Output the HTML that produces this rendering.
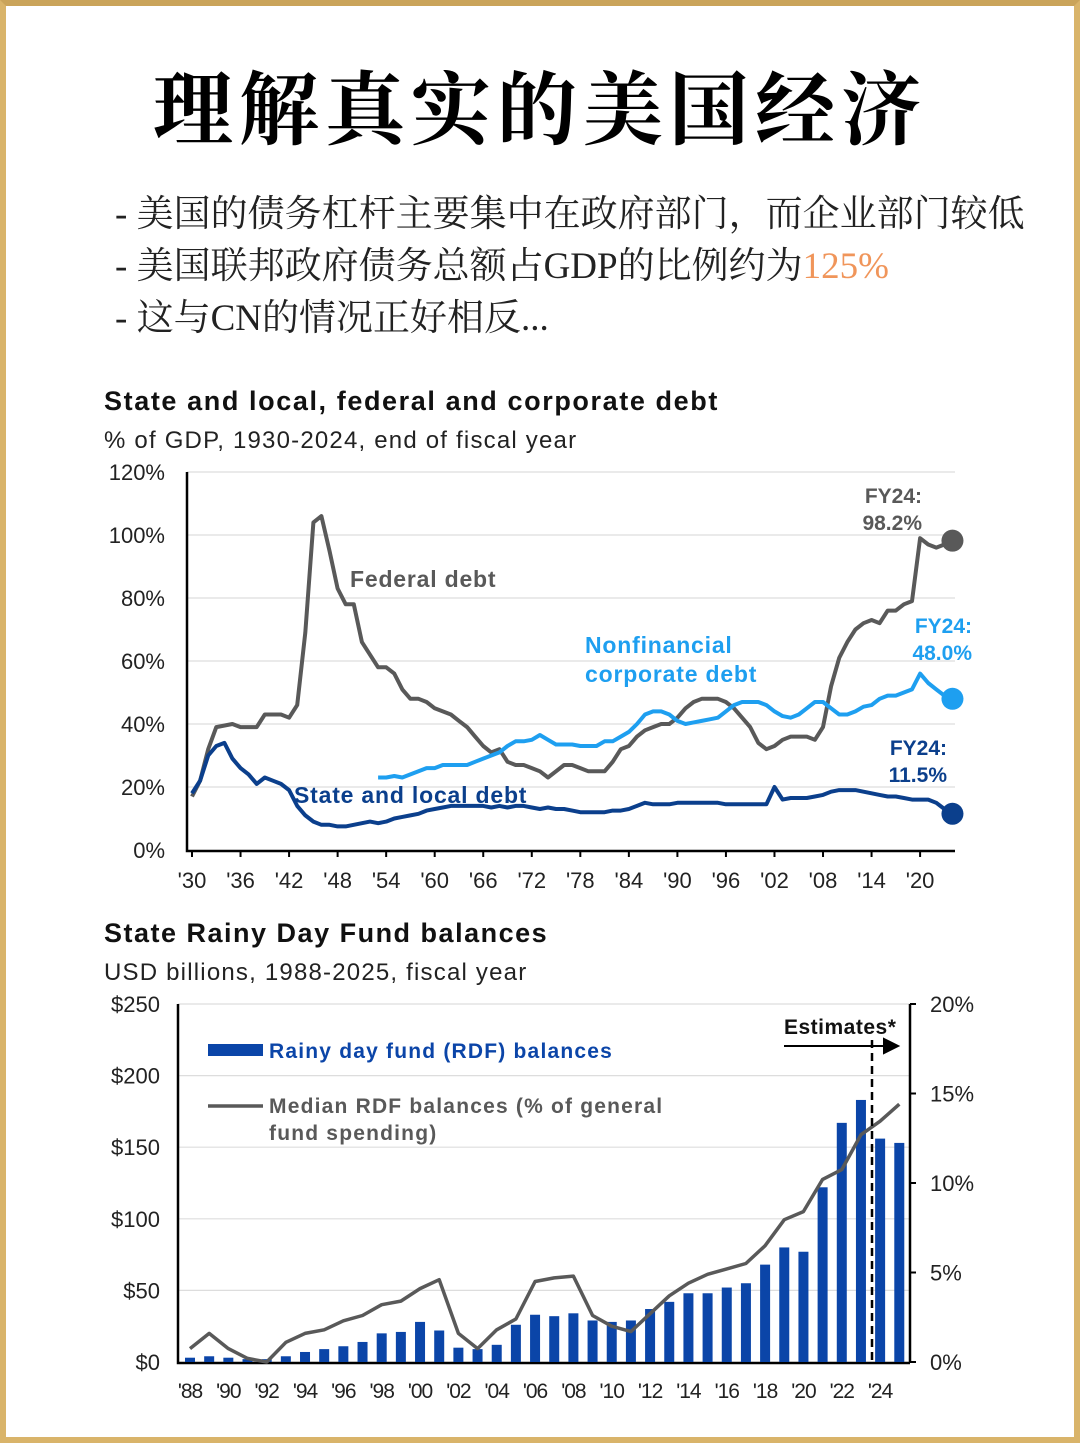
<!DOCTYPE html>
<html><head><meta charset="utf-8">
<style>
html,body{margin:0;padding:0;}
body{width:1080px;height:1443px;position:relative;background:#fff;overflow:hidden;font-family:"Liberation Sans","Noto Sans CJK SC",sans-serif;}
.frame{position:absolute;left:0;top:0;width:1080px;height:1443px;box-sizing:border-box;border:6px solid #d9b46a;border-top-color:#caa45a;}
.title{position:absolute;left:0;width:1080px;top:54px;text-align:center;font-family:"Noto Serif CJK SC",serif;font-weight:700;font-size:80px;letter-spacing:6px;color:#000;line-height:100px;}
.bul{position:absolute;left:115px;font-family:"Liberation Serif","Noto Serif CJK SC",serif;font-size:37px;color:#222;line-height:40px;white-space:nowrap;}
.orange{color:#f0955a;}
svg{position:absolute;left:0;top:0;}
</style></head>
<body>
<div class="frame"></div>
<div class="title">理解真实的美国经济</div>
<div class="bul" style="top:195px">- 美国的债务杠杆主要集中在政府部门，而企业部门较低</div>
<div class="bul" style="top:247px">- 美国联邦政府债务总额占GDP的比例约为<span class="orange">125%</span></div>
<div class="bul" style="top:299px">- 这与CN的情况正好相反...</div>
<svg id="chart" width="1080" height="1443"></svg>
<script>
// ---------- Chart 1 data ----------
const fedYears = [1930,1931,1932,1933,1935,1936,1938,1939,1941,1942,1943,1944,1945,1946,1947,1948,1949,1950,1951,1952,1953,1954,1955,1956,1957,1958,1959,1960,1961,1962,1963,1964,1965,1966,1967,1968,1969,1970,1971,1972,1973,1974,1975,1976,1977,1978,1979,1980,1981,1982,1983,1984,1985,1986,1987,1988,1989,1990,1991,1992,1993,1994,1995,1996,1997,1998,1999,2000,2001,2002,2003,2004,2005,2006,2007,2008,2009,2010,2011,2012,2013,2014,2015,2016,2017,2018,2019,2020,2021,2022,2023,2024];
const fedValues = [17,22,32,39,40,39,39,43,43,42,46,69,104,106,95,83,78,78,66,62,58,58,56,51,48,48,47,45,44,43,41,39,36,33,31,32,28,27,27,26,25,23,25,27,27,26,25,25,25,28,32,33,36,38,39,40,40,42,45,47,48,48,48,47,45,42,39,34,32,33,35,36,36,36,35,39,52,61,66,70,72,73,72,76,76,78,79,99,97,96,97,98.2];
const corpYears = [1953,1954,1955,1956,1957,1958,1959,1960,1961,1962,1963,1964,1965,1966,1967,1968,1969,1970,1971,1972,1973,1974,1975,1976,1977,1978,1979,1980,1981,1982,1983,1984,1985,1986,1987,1988,1989,1990,1991,1992,1993,1994,1995,1996,1997,1998,1999,2000,2001,2002,2003,2004,2005,2006,2007,2008,2009,2010,2011,2012,2013,2014,2015,2016,2017,2018,2019,2020,2021,2022,2023,2024];
const corpValues = [23,23,23.5,23,24,25,26,26,27,27,27,27,28,29,30,31,33,34.5,34.5,35,36.5,35,33.5,33.5,33.5,33,33,33,34.5,34.5,36,37.5,40,43,44,44,43,41,40,40.5,41,41.5,42,44,46,47,47,47,46,44,42.5,42,43,45,47,47,45,43,43,44,45.5,46,48,49,49,50,51,56,53,51,49,48];
const slYears = [];
for (let y = 1930; y <= 2024; y++) slYears.push(y);
const slValues = [18,22,30,33,34,29,26,24,21,23,22,21,19,14,11,9,8,8,7.5,7.5,8,8.5,9,8.5,9,10,10.5,11,11.5,12.5,13,13.5,14,14,14,14,14,13.5,14,13.5,14,14,13.5,13,13.5,13,13,12.5,12,12,12,12,12.5,12.5,13,14,15,14.5,14.5,14.5,15,15,15,15,15,15,14.5,14.5,14.5,14.5,14.5,14.5,20,16,16.5,16.5,16.5,17,17.5,18.5,19,19,19,18.5,18,17.5,17,17,16.5,16,16,16,15,13,11.5];
const yTicks1 = ["0%","20%","40%","60%","80%","100%","120%"];
const xTicks1 = ["'30","'36","'42","'48","'54","'60","'66","'72","'78","'84","'90","'96","'02","'08","'14","'20"];

// ---------- Chart 2 data ----------
const rdfYears = [];
for (let y = 1988; y <= 2025; y++) rdfYears.push(y);
const rdfValues = [3,4,3,2,2,4,7,9,11,14,20,21,28,22,10,9,12,26,33,32,34,29,28,29,37,42,48,48,52,55,68,80,77,122,167,183,156,153];
const medValues = [0.75,1.6,0.75,0.2,0,1.1,1.6,1.8,2.3,2.6,3.2,3.4,4.1,4.6,1.6,0.75,1.8,2.4,4.5,4.7,4.8,2.6,2.0,1.7,2.7,3.7,4.4,4.9,5.2,5.5,6.5,7.95,8.4,10.2,10.75,12.7,13.45,14.4];
const yTicks2L = ["$0","$50","$100","$150","$200","$250"];
const yTicks2R = ["0%","5%","10%","15%","20%"];
const xTicks2 = ["'88","'90","'92","'94","'96","'98","'00","'02","'04","'06","'08","'10","'12","'14","'16","'18","'20","'22","'24"];

const svg = document.getElementById('chart');
const NS = 'http://www.w3.org/2000/svg';
function mk(tag, attrs, parent) {
  const e = document.createElementNS(NS, tag);
  for (const k in attrs) e.setAttribute(k, attrs[k]);
  (parent || svg).appendChild(e);
  return e;
}
function txt(x, y, s, attrs, name) {
  const t = mk('text', Object.assign({x: x, y: y}, attrs));
  t.textContent = s;
  
  
  return t;
}
const F = 'Liberation Sans, sans-serif';

// ===== Chart 1 =====
const x1 = yr => 192 + (yr - 1930) * 8.09;
const y1 = v => 850 - v * 3.15;
txt(104, 410, 'State and local, federal and corporate debt', {'font-family': F, 'font-size': 27, 'font-weight': 'bold', fill: '#111', 'letter-spacing': 1.6}, 'chart1-title');
txt(104, 448, '% of GDP, 1930-2024, end of fiscal year', {'font-family': F, 'font-size': 24, fill: '#222', 'letter-spacing': 1.2}, 'chart1-subtitle');
yTicks1.forEach((lab, i) => {
  const v = i * 20, y = y1(v);
  if (i > 0) {
    const g = mk('line', {x1: 187, x2: 955, y1: y, y2: y, stroke: '#ddd', 'stroke-width': 1.2});
    
    
  }
  txt(165, y + 8, lab, {'font-family': F, 'font-size': 22, fill: '#222', 'text-anchor': 'end'}, 'y-tick-label');
});
const ax1 = mk('path', {d: 'M187 472 V851 H955', stroke: '#000', 'stroke-width': 2.5, fill: 'none'});


xTicks1.forEach((lab, i) => {
  const x = x1(1930 + i * 6);
  mk('line', {x1: x, x2: x, y1: 851, y2: 857, stroke: '#000', 'stroke-width': 2});
  txt(x, 888, lab, {'font-family': F, 'font-size': 22, fill: '#222', 'text-anchor': 'middle'}, 'x-tick-label');
});
function line(years, vals, xf, yf, color, w, name) {
  const d = years.map((yr, i) => (i ? 'L' : 'M') + xf(yr).toFixed(1) + ' ' + yf(vals[i]).toFixed(1)).join(' ');
  const p = mk('path', {d: d, stroke: color, 'stroke-width': w, fill: 'none', 'stroke-linejoin': 'round'});
  
  
  return p;
}
line(fedYears, fedValues, x1, y1, '#595959', 4, 'federal-debt-line');
line(corpYears, corpValues, x1, y1, '#1e9ff0', 4, 'corporate-debt-line');
line(slYears, slValues, x1, y1, '#0b3f8c', 4, 'state-local-debt-line');
[[fedValues, '#595959', 'federal-end-dot'], [corpValues, '#1e9ff0', 'corporate-end-dot'], [slValues, '#0b3f8c', 'state-local-end-dot']].forEach(a => {
  const c = mk('circle', {cx: x1(2024), cy: y1(a[0][a[0].length - 1]), r: 11, fill: a[1]});
  
  
});
const LS = 0.8;
txt(350, 587, 'Federal debt', {'font-family': F, 'font-size': 23, 'font-weight': 'bold', fill: '#595959', 'letter-spacing': LS}, 'federal-debt-label');
txt(585, 653, 'Nonfinancial', {'font-family': F, 'font-size': 23, 'font-weight': 'bold', fill: '#1e9ff0', 'letter-spacing': LS}, 'corporate-debt-label');
txt(585, 682, 'corporate debt', {'font-family': F, 'font-size': 23, 'font-weight': 'bold', fill: '#1e9ff0', 'letter-spacing': LS}, 'corporate-debt-label-2');
txt(294, 803, 'State and local debt', {'font-family': F, 'font-size': 23, 'font-weight': 'bold', fill: '#0b3f8c', 'letter-spacing': LS}, 'state-local-debt-label');
txt(922, 503, 'FY24:', {'font-family': F, 'font-size': 21, 'font-weight': 'bold', fill: '#595959', 'text-anchor': 'end'}, 'fy24-federal');
txt(922, 530, '98.2%', {'font-family': F, 'font-size': 21, 'font-weight': 'bold', fill: '#595959', 'text-anchor': 'end'}, 'fy24-federal-value');
txt(972, 633, 'FY24:', {'font-family': F, 'font-size': 21, 'font-weight': 'bold', fill: '#1e9ff0', 'text-anchor': 'end'}, 'fy24-corporate');
txt(972, 660, '48.0%', {'font-family': F, 'font-size': 21, 'font-weight': 'bold', fill: '#1e9ff0', 'text-anchor': 'end'}, 'fy24-corporate-value');
txt(947, 755, 'FY24:', {'font-family': F, 'font-size': 21, 'font-weight': 'bold', fill: '#0b3f8c', 'text-anchor': 'end'}, 'fy24-state');
txt(947, 782, '11.5%', {'font-family': F, 'font-size': 21, 'font-weight': 'bold', fill: '#0b3f8c', 'text-anchor': 'end'}, 'fy24-state-value');

// ===== Chart 2 =====
const x2 = yr => 190 + (yr - 1988) * 19.17;
const y2 = v => 1362 - v * 1.432;
const y2r = p => 1362 - p * 17.9;
txt(104, 942, 'State Rainy Day Fund balances', {'font-family': F, 'font-size': 27, 'font-weight': 'bold', fill: '#111', 'letter-spacing': 1.5}, 'chart2-title');
txt(104, 980, 'USD billions, 1988-2025, fiscal year', {'font-family': F, 'font-size': 24, fill: '#222', 'letter-spacing': 1.2}, 'chart2-subtitle');
yTicks2L.forEach((lab, i) => {
  const y = y2(i * 50);
  if (i > 0) {
    const g = mk('line', {x1: 178, x2: 910, y1: y, y2: y, stroke: '#ddd', 'stroke-width': 1.2});
    
    
  }
  txt(160, y + 8, lab, {'font-family': F, 'font-size': 22, fill: '#222', 'text-anchor': 'end'}, 'y-left-tick-label');
});
yTicks2R.forEach((lab, i) => {
  const y = y2r(i * 5);
  mk('line', {x1: 910, x2: 916, y1: y, y2: y, stroke: '#000', 'stroke-width': 2});
  txt(930, y + 8, lab, {'font-family': F, 'font-size': 22, fill: '#222'}, 'y-right-tick-label');
});
const ax2 = mk('path', {d: 'M178 1004 V1363 H910 M910 1004 V1363', stroke: '#000', 'stroke-width': 2.5, fill: 'none'});


xTicks2.forEach((lab, i) => {
  const x = x2(1988 + i * 2);
  txt(x, 1398, lab, {'font-family': F, 'font-size': 21, fill: '#222', 'text-anchor': 'middle', 'letter-spacing': -1}, 'x-tick-label');
});
rdfYears.forEach((yr, i) => {
  const b = mk('rect', {x: x2(yr) - 5, y: y2(rdfValues[i]), width: 10, height: 1362 - y2(rdfValues[i]), fill: '#0b45a8'});
  
  
});
line(rdfYears, medValues, x2, y2r, '#595959', 3.5, 'median-rdf-line');
const dash = mk('line', {x1: 872, x2: 872, y1: 1040, y2: 1362, stroke: '#000', 'stroke-width': 2.5, 'stroke-dasharray': '8,5'});


const arr = mk('path', {d: 'M784 1046 H884 M884 1039 L898 1046 L884 1053 Z', stroke: '#000', 'stroke-width': 2, fill: '#000'});


txt(784, 1034, 'Estimates*', {'font-family': F, 'font-size': 21, 'font-weight': 'bold', fill: '#111', 'letter-spacing': 0.5}, 'estimates-label');
const lb = mk('rect', {x: 208, y: 1044, width: 55, height: 12, fill: '#0b45a8'});


txt(269, 1058, 'Rainy day fund (RDF) balances', {'font-family': F, 'font-size': 21, 'font-weight': 'bold', fill: '#0b45a8', 'letter-spacing': 1.2}, 'legend-bar-label');
const ll = mk('line', {x1: 208, x2: 263, y1: 1106, y2: 1106, stroke: '#595959', 'stroke-width': 3.5});


txt(269, 1113, 'Median RDF balances (% of general', {'font-family': F, 'font-size': 21, 'font-weight': 'bold', fill: '#595959', 'letter-spacing': 1.2}, 'legend-line-label');
txt(269, 1140, 'fund spending)', {'font-family': F, 'font-size': 21, 'font-weight': 'bold', fill: '#595959', 'letter-spacing': 1.2}, 'legend-line-label-2');
</script>
</body></html>
